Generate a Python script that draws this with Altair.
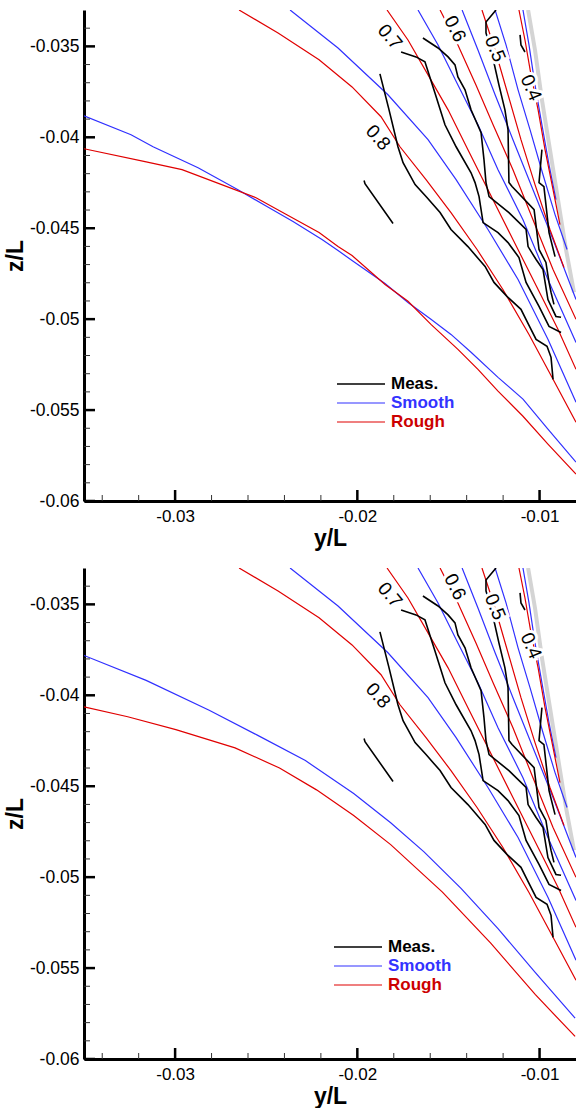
import altair as alt
import pandas as pd

# ---------------- axes ----------------
X_DOMAIN = [-0.035, -0.008]
Z_DOMAIN = [-0.06, -0.033]
X_MAJOR = [-0.03, -0.02, -0.01]
X_MINOR = [-0.034, -0.032, -0.028, -0.026, -0.024, -0.022, -0.018, -0.016, -0.014, -0.012]
Z_MAJOR = [-0.06, -0.055, -0.05, -0.045, -0.04, -0.035]
Z_MINOR = [-0.059, -0.058, -0.057, -0.056, -0.054, -0.053, -0.052, -0.051,
           -0.049, -0.048, -0.047, -0.046, -0.044, -0.043, -0.042, -0.041,
           -0.039, -0.038, -0.037, -0.036, -0.034]

# ---------------- contour lines shared by both panels ----------------
# Smooth (blue) contours
S08_Y = [-0.02369, -0.02106, -0.01832, -0.01612, -0.01458, -0.01283, -0.01118, -0.00954, -0.00800]
S08_Z = [-0.03300, -0.03509, -0.03766, -0.04013, -0.04233, -0.04507, -0.04782, -0.05111, -0.05457]
S07_Y = [-0.01667, -0.01557, -0.01448, -0.01338, -0.01228, -0.01091, -0.00954, -0.00800]
S07_Z = [-0.03300, -0.03492, -0.03712, -0.03931, -0.04178, -0.04453, -0.04782, -0.05128]
S06_Y = [-0.01425, -0.01338, -0.01244, -0.01146, -0.01036, -0.00926, -0.00800]
S06_Z = [-0.03300, -0.03520, -0.03766, -0.04013, -0.04288, -0.04562, -0.04892]
S05_Y = [-0.01244, -0.01184, -0.01118, -0.01052, -0.00981, -0.00915, -0.00849]
S05_Z = [-0.03300, -0.03492, -0.03739, -0.03959, -0.04206, -0.04425, -0.04617]
S04_Y = [-0.01091, -0.01058, -0.01025, -0.00987, -0.00948, -0.00910]
S04_Z = [-0.03300, -0.03492, -0.03712, -0.03931, -0.04151, -0.04343]

# Rough (red) contours
R08_Y = [-0.02649, -0.02435, -0.02210, -0.02029, -0.01870, -0.01766, -0.01623, -0.01486, -0.01343, -0.01201, -0.01058, -0.00926, -0.00800]
R08_Z = [-0.03300, -0.03426, -0.03574, -0.03723, -0.03887, -0.04052, -0.04233, -0.04414, -0.04617, -0.04837, -0.05084, -0.05331, -0.05567]
R07_Y = [-0.01837, -0.01722, -0.01612, -0.01502, -0.01393, -0.01283, -0.01146, -0.01008, -0.00899, -0.00800]
R07_Z = [-0.03300, -0.03465, -0.03657, -0.03849, -0.04068, -0.04288, -0.04562, -0.04837, -0.05056, -0.05276]
R06_Y = [-0.01546, -0.01448, -0.01349, -0.01255, -0.01146, -0.01036, -0.00926, -0.00800]
R06_Z = [-0.03300, -0.03492, -0.03712, -0.03931, -0.04178, -0.04453, -0.04727, -0.05001]
R05_Y = [-0.01316, -0.01244, -0.01173, -0.01102, -0.01025, -0.00943, -0.00866]
R05_Z = [-0.03300, -0.03520, -0.03766, -0.04013, -0.04260, -0.04507, -0.04716]
R04_Y = [-0.01113, -0.01080, -0.01047, -0.01008, -0.00970, -0.00926, -0.00888]
R04_Z = [-0.03300, -0.03465, -0.03657, -0.03849, -0.04068, -0.04288, -0.04480]

# wall (grey)
WALL_Y = [-0.01063, -0.01025, -0.00987, -0.00943, -0.00899, -0.00855, -0.00811]
WALL_Z = [-0.03300, -0.03520, -0.03794, -0.04068, -0.04343, -0.04617, -0.04853]

# measured (black) contours
M1_Y = [-0.01963, -0.01958, -0.01804]
M1_Z = [-0.04238, -0.04255, -0.04474]
M2_Y = [-0.01876, -0.01826, -0.01777, -0.01749, -0.01683, -0.01623, -0.01546, -0.01486, -0.01393, -0.01332,
        -0.01299, -0.01250, -0.01179, -0.01102, -0.01069, -0.01019, -0.00959, -0.00937, -0.00926]
M2_Z = [-0.03651, -0.03849, -0.04052, -0.04140, -0.04260, -0.04326, -0.04414, -0.04507, -0.04601, -0.04672,
        -0.04710, -0.04798, -0.04875, -0.04946, -0.05012, -0.05111, -0.05149, -0.05210, -0.05331]
M3_Y = [-0.01760, -0.01678, -0.01629, -0.01574, -0.01519, -0.01458, -0.01376, -0.01354, -0.01332, -0.01310,
        -0.01228, -0.01173, -0.01113, -0.01074, -0.01003, -0.00948, -0.00882]
M3_Z = [-0.03531, -0.03558, -0.03585, -0.03756, -0.03931, -0.04052, -0.04195, -0.04249, -0.04326, -0.04469,
        -0.04524, -0.04579, -0.04661, -0.04798, -0.04930, -0.05040, -0.05073]
M4_Y = [-0.01640, -0.01557, -0.01502, -0.01464, -0.01448, -0.01409, -0.01376, -0.01321, -0.01305, -0.01294,
        -0.01277, -0.01168, -0.01074, -0.01063, -0.01019, -0.00981, -0.00954, -0.00910, -0.00882]
M4_Z = [-0.03454, -0.03509, -0.03558, -0.03602, -0.03668, -0.03739, -0.03849, -0.03975, -0.04123, -0.04249,
        -0.04326, -0.04414, -0.04507, -0.04601, -0.04672, -0.04727, -0.04892, -0.04985, -0.04990]
M5_Y = [-0.01239, -0.01294, -0.01294, -0.01266, -0.01223, -0.01190, -0.01173, -0.01168, -0.01151, -0.01030,
        -0.01003, -0.00965, -0.00948, -0.00937, -0.00921]
M5_Z = [-0.03300, -0.03366, -0.03426, -0.03520, -0.03712, -0.03849, -0.03959, -0.04249, -0.04271, -0.04398,
        -0.04617, -0.04688, -0.04798, -0.04853, -0.04919]
M6_Y = [-0.00987, -0.01003, -0.00976, -0.00948, -0.00915]
M6_Z = [-0.04068, -0.04249, -0.04271, -0.04524, -0.04656]
M7_Y = [-0.01107, -0.01102, -0.01080]
M7_Z = [-0.03437, -0.03492, -0.03531]

# lowest contour pair, different in each panel
TOP_S09_Y = [-0.03500, -0.03242, -0.03121, -0.02874, -0.02655, -0.02496, -0.02353, -0.02194, -0.02106, -0.02029,
             -0.01848, -0.01722, -0.01596, -0.01486, -0.01376, -0.01228, -0.01091, -0.00954, -0.00800]
TOP_S09_Z = [-0.03882, -0.03986, -0.04052, -0.04167, -0.04288, -0.04381, -0.04463, -0.04562, -0.04623, -0.04677,
             -0.04804, -0.04908, -0.05001, -0.05084, -0.05182, -0.05320, -0.05440, -0.05605, -0.05786]
TOP_R09_Y = [-0.03500, -0.03165, -0.02962, -0.02759, -0.02556, -0.02397, -0.02210, -0.02106, -0.02029, -0.01848,
             -0.01722, -0.01596, -0.01448, -0.01338, -0.01228, -0.01091, -0.00954, -0.00800]
TOP_R09_Z = [-0.04063, -0.04134, -0.04178, -0.04255, -0.04332, -0.04420, -0.04524, -0.04601, -0.04650, -0.04809,
             -0.04902, -0.05029, -0.05166, -0.05276, -0.05396, -0.05534, -0.05687, -0.05852]
BOT_S09_Y = [-0.03500, -0.03159, -0.02813, -0.02549, -0.02285, -0.02020, -0.01817, -0.01634, -0.01431, -0.01228,
             -0.01024, -0.00805]
BOT_S09_Z = [-0.03781, -0.03918, -0.04082, -0.04219, -0.04359, -0.04540, -0.04701, -0.04861, -0.05062, -0.05283,
             -0.05524, -0.05775]
BOT_R09_Y = [-0.03500, -0.03260, -0.02996, -0.02671, -0.02427, -0.02224, -0.02020, -0.01817, -0.01533, -0.01268,
             -0.01024, -0.00805]
BOT_R09_Z = [-0.04064, -0.04118, -0.04189, -0.04289, -0.04400, -0.04520, -0.04661, -0.04821, -0.05082, -0.05363,
             -0.05645, -0.05876]

# contour labels
LABEL_TEXT = ["0.8", "0.7", "0.6", "0.5", "0.4"]
LABEL_Y = [-0.01887, -0.01821, -0.01464, -0.01244, -0.01047]
LABEL_Z = [-0.04002, -0.03448, -0.03404, -0.03514, -0.03728]
LABEL_ANGLE = [48, 50, 63, 68, 67]

LEGEND_TEXT = ["Meas.", "Smooth", "Rough"]

FONT = "Liberation Sans"
BLUE = "#3030ff"
RED = "#e00000"
W, H = 492, 491

xscale = alt.Scale(domain=X_DOMAIN, nice=False, zero=False)
zscale = alt.Scale(domain=Z_DOMAIN, nice=False, zero=False)
MINUS = "\u2212"

x_axis = alt.Axis(values=X_MAJOR, format=".3~f", ticks=False, grid=False, title="y/L",
                  labelExpr=f"replace(datum.label, '{MINUS}', '-')",
                  labelFontSize=17, labelFont=FONT, labelColor="black", labelPadding=7,
                  titleFont=FONT, titleFontSize=23, titleFontWeight="bold", titleColor="black",
                  titlePadding=3, domainColor="black", domainWidth=3)
z_axis = alt.Axis(values=Z_MAJOR, format=".3~f", ticks=False, grid=False, title="z/L",
                  labelExpr=f"replace(datum.label, '{MINUS}', '-')",
                  labelFontSize=17.5, labelFont=FONT, labelColor="black", labelPadding=5,
                  titleFont=FONT, titleFontSize=23, titleFontWeight="bold", titleColor="black",
                  titlePadding=2, domainColor="black", domainWidth=3)

XENC = alt.X("yL:Q", scale=xscale, axis=x_axis)
ZENC = alt.Y("zL:Q", scale=zscale, axis=z_axis)


def curves(series, pairs):
    rows = []
    for name, ys, zs in pairs:
        for i, (a, b) in enumerate(zip(ys, zs)):
            rows.append({"series": series, "curve": name, "idx": i, "yL": a, "zL": b})
    return pd.DataFrame(rows)


def line_layer(df, color, width):
    return alt.Chart(df).mark_line(color=color, strokeWidth=width, clip=True).encode(
        x=XENC, y=ZENC, detail="curve:N", order="idx:Q")


def panel(s09, r09, leg_x, leg_y):
    smooth = curves("Smooth", [("s08", S08_Y, S08_Z), ("s07", S07_Y, S07_Z), ("s06", S06_Y, S06_Z),
                               ("s05", S05_Y, S05_Z), ("s04", S04_Y, S04_Z), ("s09", s09[0], s09[1])])
    rough = curves("Rough", [("r08", R08_Y, R08_Z), ("r07", R07_Y, R07_Z), ("r06", R06_Y, R06_Z),
                             ("r05", R05_Y, R05_Z), ("r04", R04_Y, R04_Z), ("r09", r09[0], r09[1])])
    meas = curves("Meas.", [("m1", M1_Y, M1_Z), ("m2", M2_Y, M2_Z), ("m3", M3_Y, M3_Z), ("m4", M4_Y, M4_Z),
                            ("m5", M5_Y, M5_Z), ("m6", M6_Y, M6_Z), ("m7", M7_Y, M7_Z)])
    wall = curves("Wall", [("w", WALL_Y, WALL_Z)])

    labels = pd.DataFrame({"t": LABEL_TEXT, "yL": LABEL_Y, "zL": LABEL_Z, "ang": LABEL_ANGLE})
    lab_enc = dict(x=XENC, y=ZENC, text="t:N", angle=alt.Angle("ang:Q", scale=None))
    halo = alt.Chart(labels).mark_text(font=FONT, fontSize=19, color="white", stroke="white",
                                       strokeWidth=6, align="center", baseline="middle").encode(**lab_enc)
    labtxt = alt.Chart(labels).mark_text(font=FONT, fontSize=19, color="black",
                                         align="center", baseline="middle").encode(**lab_enc)

    def zticks(vals, length, width, color):
        return alt.Chart(pd.DataFrame({"zL": vals})).mark_rule(strokeWidth=width, color=color).encode(
            y=ZENC, x=alt.value(0), x2=alt.value(length))

    def xticks(vals, length, width, color):
        return alt.Chart(pd.DataFrame({"yL": vals})).mark_rule(strokeWidth=width, color=color).encode(
            x=XENC, y=alt.value(H), y2=alt.value(H - length))

    legend_layers = []
    leg_line_col = ["black", BLUE, RED]
    leg_text_col = ["black", "#3333ff", "#cc0000"]
    leg_width = [1.6, 1.2, 1.2]
    for k, name in enumerate(LEGEND_TEXT):
        ypix = leg_y + 19 * k
        ldf = pd.DataFrame({"t": [name]})
        legend_layers.append(
            alt.Chart(ldf).mark_rule(color=leg_line_col[k], strokeWidth=leg_width[k]).encode(
                x=alt.value(leg_x), x2=alt.value(leg_x + 48), y=alt.value(ypix)))
        legend_layers.append(
            alt.Chart(ldf).mark_text(font=FONT, fontSize=17, fontWeight="bold", color=leg_text_col[k],
                                     align="left", baseline="middle").encode(
                text="t:N", x=alt.value(leg_x + 54), y=alt.value(ypix)))

    layers = [
        line_layer(wall, "#d4d4d4", 4),
        line_layer(smooth, BLUE, 1.2),
        line_layer(rough, RED, 1.2),
        line_layer(meas, "black", 1.6),
        halo, labtxt,
        zticks(Z_MINOR, 6, 1, "#333333"), zticks(Z_MAJOR, 11, 2.5, "black"),
        xticks(X_MINOR, 6, 1, "#333333"), xticks(X_MAJOR, 11, 2.5, "black"),
    ] + legend_layers
    return alt.layer(*layers).properties(width=W, height=H)


top = panel((TOP_S09_Y, TOP_S09_Z), (TOP_R09_Y, TOP_R09_Z), 253, 374)
bottom = panel((BOT_S09_Y, BOT_S09_Z), (BOT_R09_Y, BOT_R09_Z), 250, 379)

chart = alt.vconcat(top, bottom, spacing=18).properties(
    padding={"left": 4, "top": 10, "right": 0, "bottom": 0},
    background="white",
).configure_view(stroke=None)

chart.save("out.html", embed_options={"renderer": "svg", "actions": False})
